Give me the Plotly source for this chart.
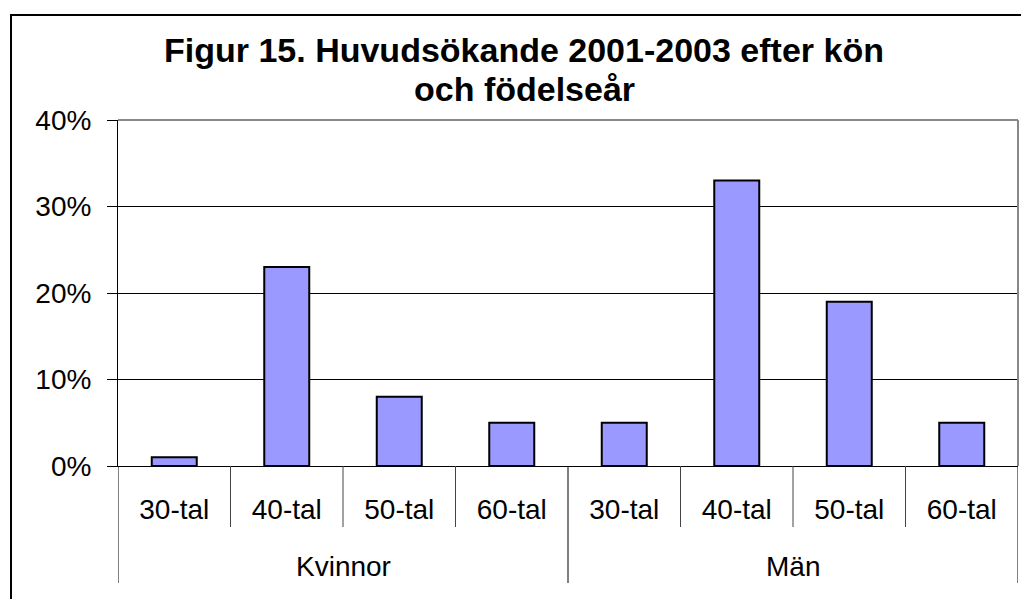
import plotly.graph_objects as go

groups = ["Kvinnor", "Män"]
decades = ["30-tal", "40-tal", "50-tal", "60-tal"]
kvinnor = [0.01, 0.23, 0.08, 0.05]
man = [0.05, 0.33, 0.19, 0.05]
title_lines = ["Figur 15. Huvudsökande 2001-2003 efter kön", "och födelseår"]

labels = decades + decades
values = kvinnor + man
xpos = list(range(len(values)))

BAR = "#9999FF"
FONT = "Liberation Sans, Arial, sans-serif"

# page body has an 8px margin; figure is sized to fit the window
W, H = 1021, 591
OFF = 8
# plot area in screen px: x 118..1018, y 120..466
L, R, T, B = 118 - OFF, 1018 - OFF, 120 - OFF, 466 - OFF
PW, PH = float(R - L), float(B - T)

fig = go.Figure()
fig.add_trace(go.Bar(
    x=xpos, y=values, width=0.4,
    marker=dict(color=BAR, line=dict(color="black", width=2)),
    showlegend=False, hoverinfo="skip",
))

shapes = []
for i in range(len(values) - 1):
    if (i + 1) % len(decades) != 0:
        shapes.append(dict(type="line", xref="x", yref="paper",
                           x0=i + 0.5, x1=i + 0.5, y0=0, y1=-(527 - 466) / PH,
                           line=dict(color="#444", width=1)))
for k in range(len(groups) + 1):
    xv = k * len(decades) - 0.5
    shapes.append(dict(type="line", xref="x", yref="paper",
                       x0=xv, x1=xv, y0=0, y1=-(583 - 466) / PH,
                       line=dict(color="black", width=1)))
shapes.append(dict(type="line", xref="paper", yref="paper", x0=0, x1=1, y0=1, y1=1,
                   line=dict(color="#888", width=2)))
shapes.append(dict(type="line", xref="paper", yref="paper", x0=1, x1=1, y0=0, y1=1,
                   line=dict(color="#888", width=2)))
# outer chart border (screen x=11, y=15)
shapes.append(dict(type="rect", xref="paper", yref="paper",
                   x0=(11 - 118) / PW, x1=(1060 - 118) / PW,
                   y0=-(640 - 466) / PH, y1=1 + (120 - 15) / PH,
                   line=dict(color="black", width=2)))

annotations = []
for k, g in enumerate(groups):
    annotations.append(dict(x=k * len(decades) + (len(decades) - 1) / 2, xref="x",
                            y=-(566 - 466) / PH, yref="paper",
                            text=g, showarrow=False, yanchor="middle",
                            font=dict(family=FONT, size=28, color="black")))

# title lines (screen centers y=50 and y=89, x=524)
title_x = (524 - 118) / PW
for line, yc in zip(title_lines, [50, 89]):
    annotations.append(dict(x=title_x, xref="paper", xanchor="center",
                            y=1 + (120 - yc) / PH, yref="paper", yanchor="middle",
                            text="<b>" + line + "</b>", showarrow=False,
                            font=dict(family=FONT, size=34, color="black")))

fig.update_layout(
    width=W, height=H,
    margin=dict(l=L, r=W - R, t=T, b=H - B),
    paper_bgcolor="white", plot_bgcolor="white",
    xaxis=dict(range=[-0.5, len(values) - 0.5], tickmode="array", tickvals=xpos,
               ticktext=labels, showgrid=False, zeroline=False,
               showline=True, linecolor="black", linewidth=1,
               ticks="outside", ticklen=18, tickcolor="rgba(0,0,0,0)",
               tickfont=dict(family=FONT, size=28, color="black")),
    yaxis=dict(range=[0, 0.4], tickmode="linear", tick0=0, dtick=0.1, tickformat=".0%",
               showgrid=True, gridcolor="black", gridwidth=1, zeroline=False,
               showline=True, linecolor="black", linewidth=1,
               ticks="outside", ticklen=10, tickcolor="black",
               ticklabelstandoff=10,
               tickfont=dict(family=FONT, size=28, color="black")),
    shapes=shapes, annotations=annotations,
    bargap=0.6,
)

fig.write_html("out.html")
